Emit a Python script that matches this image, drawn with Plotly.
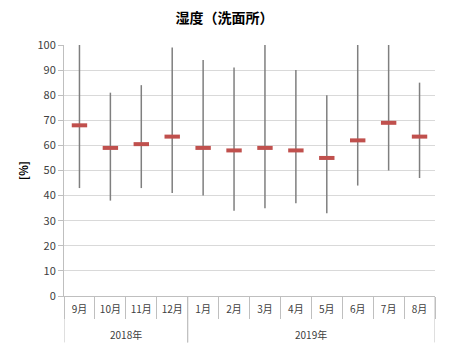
import plotly.graph_objects as go

months = ["9月", "10月", "11月", "12月", "1月", "2月", "3月", "4月", "5月", "6月", "7月", "8月"]
year_labels = ["2018年", "2019年"]
year_spans = [(0, 3), (4, 11)]  # index ranges of months in each year
hum_max = [100, 81, 84, 99, 94, 91, 100, 90, 80, 100, 100, 85]
hum_min = [43, 38, 43, 41, 40, 34, 35, 37, 33, 44, 50, 47]
hum_mean = [68, 59, 60.5, 63.5, 59, 58, 59, 58, 55, 62, 69, 63.5]

FONT = "Noto Sans CJK JP, sans-serif"
fig = go.Figure()

lx, ly = [], []
for m, lo, hi in zip(months, hum_min, hum_max):
    lx += [m, m, None]
    ly += [lo, hi, None]
fig.add_trace(go.Scatter(x=lx, y=ly, mode="lines",
                         line=dict(color="#7f7f7f", width=1.5),
                         showlegend=False, hoverinfo="skip", connectgaps=False))
fig.add_trace(go.Scatter(x=months, y=hum_mean, mode="markers",
                         marker=dict(symbol="line-ew", size=11,
                                     line=dict(width=4, color="#c0504d")),
                         showlegend=False))

# year group labels and dividers
for lab, (a, b) in zip(year_labels, year_spans):
    fig.add_annotation(x=(a + b) / 2, xref="x", y=-0.155, yref="paper", text=lab,
                       showarrow=False, font=dict(size=10, color="#404040"),
                       xanchor="center", yanchor="middle")
for a, b in year_spans:
    for edge in (a - 0.5, b + 0.5):
        fig.add_shape(type="line", xref="x", yref="paper", x0=edge, x1=edge,
                      y0=0, y1=-0.185, line=dict(color="#bfbfbf", width=1))

fig.update_layout(
    width=449, height=350,
    margin=dict(l=64, r=14, t=45, b=54),
    paper_bgcolor="white", plot_bgcolor="white",
    font=dict(family=FONT, size=11, color="#404040"),
    title=dict(text="<b>湿度（洗面所）</b>", x=0.5, xanchor="center", y=0.948, yanchor="middle",
               font=dict(family=FONT, size=14, color="#000000")),
    xaxis=dict(type="category", range=[-0.5, 11.5], showgrid=False, showline=True,
               linecolor="#bfbfbf", tickson="boundaries", ticks="outside", ticklen=22,
               tickcolor="#bfbfbf", tickangle=0, automargin=False, ticklabelstandoff=4,
               tickfont=dict(size=10, color="#404040")),
    yaxis=dict(range=[0, 100], dtick=10, showgrid=True, gridcolor="#d9d9d9", gridwidth=1,
               zeroline=False, showline=True, linecolor="#bfbfbf", ticks="outside",
               tickcolor="#bfbfbf", ticklen=5, automargin=False,
               tickfont=dict(size=11, color="#404040"),
               title=dict(text="<b>[%]</b>", font=dict(size=11, color="#000000"), standoff=6)),
)

fig.write_html("out.html")
